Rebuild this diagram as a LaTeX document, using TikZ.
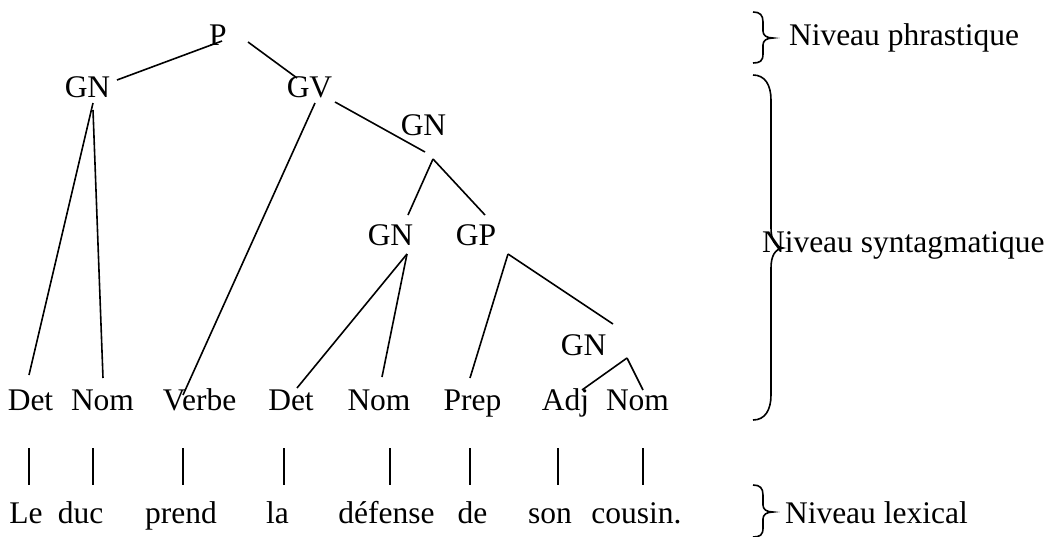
\documentclass[tikz,border=0pt]{standalone}
\usepackage{fontspec}
\setmainfont{Liberation Serif}
\begin{document}
\tikzset{
  lbl/.style={anchor=base, inner sep=0pt, outer sep=0pt},
  lvl/.style={anchor=base west, inner sep=0pt, outer sep=0pt},
  edge/.style={line width=1.6pt},
  brc/.style={line width=1.6pt},
}
\begin{tikzpicture}[x=1pt,y=-1pt,font=\fontsize{31.5}{36}\selectfont]
\useasboundingbox (0,0) rectangle (1050,536);
% tree nodes
\node[lbl] (P)   at (218,45)  {P};
\node[lbl] (GN1) at (87.5,97) {GN};
\node[lbl] (GV)  at (309.5,97) {GV};
\node[lbl] (GNm) at (423.5,135) {GN};
\node[lbl] (GNl) at (390.5,245) {GN};
\node[lbl] (GP)  at (476,245) {GP};
\node[lbl] (GNr) at (583.5,355) {GN};
% categories
\node[lbl] (Det1)  at (30.5,410)  {Det};
\node[lbl] (Nom1)  at (102.5,410) {Nom};
\node[lbl] (Verbe) at (199.5,410) {Verbe};
\node[lbl] (Det2)  at (291,410)   {Det};
\node[lbl] (Nom2)  at (379,410)   {Nom};
\node[lbl] (Prep)  at (472.5,410) {Prep};
\node[lbl] (Adj)   at (565.5,410) {Adj};
\node[lbl] (Nom3)  at (637.5,410) {Nom};
% words
\node[lbl] (Le)      at (26,523)    {Le};
\node[lbl] (duc)     at (80.5,523)  {duc};
\node[lbl] (prend)   at (181,523)   {prend};
\node[lbl] (la)      at (277.5,523) {la};
\node[lbl] (defense) at (386.5,523) {défense};
\node[lbl] (de)      at (472.5,523) {de};
\node[lbl] (son)     at (550,523)   {son};
\node[lbl] (cousin)  at (636.5,523) {cousin.};
% level labels
\node[lvl] (lvlP) at (789,45)  {Niveau phrastique};
\node[lvl] (lvlS) at (762,252) {Niveau syntagmatique};
\node[lvl] (lvlL) at (785,523) {Niveau lexical};
% tree edges
\draw[edge] ([shift={(29.5,-17)}]GN1.base) -- ([shift={(4,-4)}]P.base);
\draw[edge] ([shift={(30,-3)}]P.base) -- ([shift={(-12.5,-19)}]GV.base);
\draw[edge] ([shift={(5.5,6)}]GN1.base) -- ([shift={(-1.5,-35)}]Det1.base);
\draw[edge] ([shift={(5.5,13)}]GN1.base) -- ([shift={(0.5,-32)}]Nom1.base);
\draw[edge] ([shift={(5.5,6)}]GV.base) -- ([shift={(-16.5,-15)}]Verbe.base);
\draw[edge] ([shift={(25.5,5)}]GV.base) -- ([shift={(1.5,17)}]GNm.base);
\draw[edge] ([shift={(9.5,24)}]GNm.base) -- ([shift={(17.5,-30)}]GNl.base);
\draw[edge] ([shift={(9.5,24)}]GNm.base) -- ([shift={(9,-30)}]GP.base);
\draw[edge] ([shift={(16.5,9)}]GNl.base) -- ([shift={(6,-22)}]Det2.base);
\draw[edge] ([shift={(16.5,9)}]GNl.base) -- ([shift={(3,-33)}]Nom2.base);
\draw[edge] ([shift={(32,9)}]GP.base) -- ([shift={(-2.5,-32)}]Prep.base);
\draw[edge] ([shift={(32,9)}]GP.base) -- ([shift={(29.5,-31)}]GNr.base);
\draw[edge] ([shift={(43.5,3)}]GNr.base) -- ([shift={(16.5,-20)}]Adj.base);
\draw[edge] ([shift={(43.5,3)}]GNr.base) -- ([shift={(5.5,-20)}]Nom3.base);
% vertical bars
\draw[edge] ([shift={(-1.5,38)}]Det1.base) -- ([shift={(3,-38)}]Le.base);
\draw[edge] ([shift={(-9.5,38)}]Nom1.base) -- ([shift={(12.5,-38)}]duc.base);
\draw[edge] ([shift={(-16.5,38)}]Verbe.base) -- ([shift={(2,-38)}]prend.base);
\draw[edge] ([shift={(-7,38)}]Det2.base) -- ([shift={(6.5,-38)}]la.base);
\draw[edge] ([shift={(11,38)}]Nom2.base) -- ([shift={(3.5,-38)}]defense.base);
\draw[edge] ([shift={(-2.5,38)}]Prep.base) -- ([shift={(-2.5,-38)}]de.base);
\draw[edge] ([shift={(-7.5,38)}]Adj.base) -- ([shift={(8,-38)}]son.base);
\draw[edge] ([shift={(5.5,38)}]Nom3.base) -- ([shift={(6.5,-38)}]cousin.base);
% braces
\draw[brc] (753,12) .. controls (760,12) and (763,15) .. (763,22) -- (763,31)
  .. controls (763,35) and (766,38) .. (773,38)
  .. controls (766,38) and (763,41) .. (763,45) -- (763,54)
  .. controls (763,61) and (760,63) .. (753,63);
\draw[brc] (753,75) .. controls (765,75) and (771,85) .. (771,100) -- (771,228)
  .. controls (771,240) and (775,247) .. (783,248)
  .. controls (775,249) and (771,256) .. (771,268) -- (771,395)
  .. controls (771,410) and (765,420) .. (753,420);
\draw[brc] (753,485) .. controls (760,485) and (763,488) .. (763,495) -- (763,505)
  .. controls (763,509) and (766,512) .. (773,512)
  .. controls (766,512) and (763,515) .. (763,519) -- (763,528)
  .. controls (763,535) and (760,537) .. (753,537);
\end{tikzpicture}
\end{document}
